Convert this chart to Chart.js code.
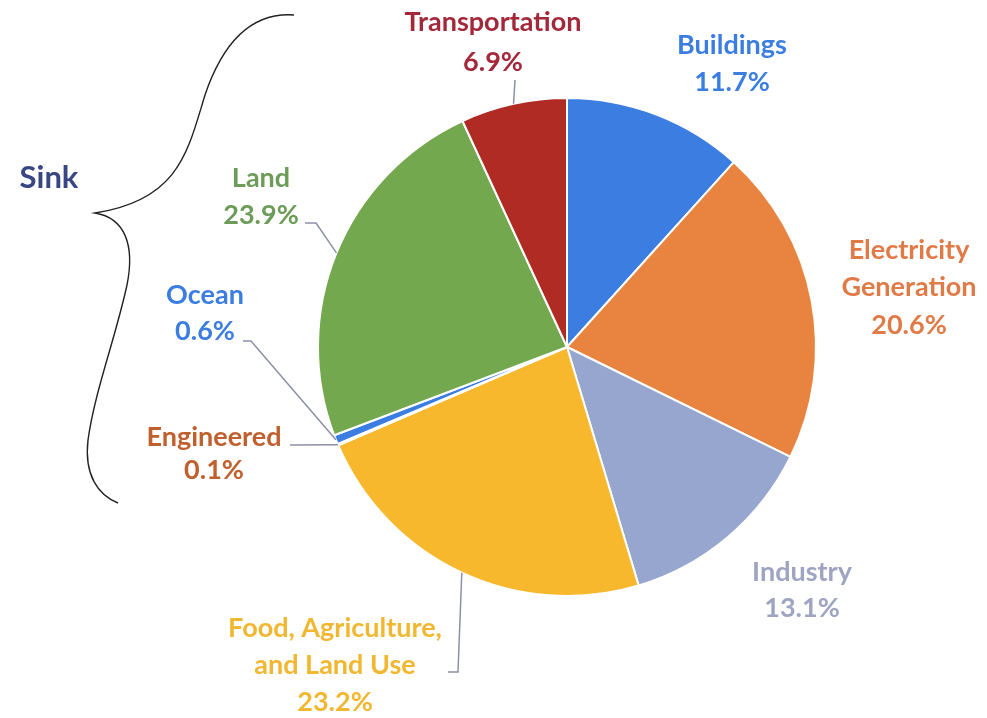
<!DOCTYPE html>
<html>
<head>
<meta charset="utf-8">
<script src="https://cdn.jsdelivr.net/npm/chart.js@4"></script>
<style>
  html, body { margin: 0; padding: 0; background: #fff; }
  #wrap { width: 987px; height: 718px; position: relative; }
</style>
</head>
<body>
<div id="wrap"><canvas id="pie"></canvas></div>
<script>
// ===== Data =====
const categories = ["Buildings", "Electricity Generation", "Industry", "Food, Agriculture, and Land Use",
                    "Engineered", "Ocean", "Land", "Transportation"];
const shares = [11.7, 20.6, 13.1, 23.2, 0.1, 0.6, 23.9, 6.9];
const sliceColors = ["#3b7de0", "#e8843f", "#97a6cf", "#f7b82e", "#c0622e", "#3b7de0", "#74a84e", "#b02b24"];
const textColors = ["#3b7de0", "#e07a46", "#9ea4c2", "#f2b730", "#c0602e", "#3b7de0", "#6c9c58", "#a3283a"];

// label lines as they appear in the picture
const labelLines = [
    ["Buildings"], ["Electricity", "Generation"], ["Industry"], ["Food, Agriculture,", "and Land Use"],
    ["Engineered"], ["Ocean"], ["Land"], ["Transportation"]
];

// ===== Label layout (center x, first line y, line gap, leader elbow) =====
const labelPos = [
    { x: 732, y: 45, gap: 37 },
    { x: 909, y: 250, gap: 37.5 },
    { x: 802, y: 572, gap: 36 },
    { x: 335, y: 628, gap: 37, leader: [[448, 672], [458, 672]] },
    { x: 214, y: 437, gap: 33, leader: [[290, 445]] },
    { x: 205, y: 295, gap: 36, leader: [[243, 341], [251, 341]] },
    { x: 261, y: 178, gap: 37, leader: [[305, 223], [316, 223]] },
    { x: 493, y: 22, gap: 40, leader: [[515, 80]] }
];

const FONT = "700 27px Lato, 'Open Sans', sans-serif";

const labelsPlugin = {
    id: "pieLabels",
    afterDraw(chart) {
        const ctx = chart.ctx;
        const arcs = chart.getDatasetMeta(0).data;
        ctx.save();
        ctx.font = FONT;
        ctx.textAlign = "center";
        ctx.textBaseline = "middle";

        arcs.forEach((arc, i) => {
            const p = labelPos[i];
            const lines = labelLines[i].concat([shares[i].toFixed(1) + "%"]);
            ctx.fillStyle = textColors[i];
            lines.forEach((t, k) => ctx.fillText(t, p.x, p.y + k * p.gap));

            if (p.leader) {
                const { x, y, startAngle, endAngle, outerRadius } =
                    arc.getProps(["x", "y", "startAngle", "endAngle", "outerRadius"], true);
                const mid = (startAngle + endAngle) / 2;
                ctx.strokeStyle = "#8b90a6";
                ctx.lineWidth = 1.5;
                ctx.beginPath();
                ctx.moveTo(p.leader[0][0], p.leader[0][1]);
                p.leader.slice(1).forEach(pt => ctx.lineTo(pt[0], pt[1]));
                ctx.lineTo(x + Math.cos(mid) * outerRadius, y + Math.sin(mid) * outerRadius);
                ctx.stroke();
            }
        });

        // "Sink" label with curly brace
        ctx.fillStyle = "#394684";
        ctx.font = "700 31px Lato, 'Open Sans', sans-serif";
        ctx.fillText("Sink", 49, 178);

        ctx.strokeStyle = "#222";
        ctx.lineWidth = 1.4;
        ctx.beginPath();
        ctx.moveTo(294, 15);
        ctx.bezierCurveTo(250, 12, 222, 45, 205, 95);
        ctx.bezierCurveTo(188, 150, 180, 200, 95, 213);
        ctx.bezierCurveTo(125, 218, 135, 245, 127, 285);
        ctx.bezierCurveTo(115, 340, 95, 390, 88, 440);
        ctx.bezierCurveTo(84, 475, 98, 495, 118, 503);
        ctx.stroke();
        ctx.restore();
    }
};

new Chart(document.getElementById("pie"), {
    type: "pie",
    data: {
        labels: categories,
        datasets: [{
            data: shares,
            backgroundColor: sliceColors,
            borderColor: "#ffffff",
            borderWidth: 2
        }]
    },
    options: {
        responsive: true,
        maintainAspectRatio: false,
        animation: false,
        layout: { padding: { left: 317, right: 170, top: 97, bottom: 121 } },
        plugins: { legend: { display: false }, tooltip: { enabled: false } }
    },
    plugins: [labelsPlugin]
});
</script>
</body>
</html>
